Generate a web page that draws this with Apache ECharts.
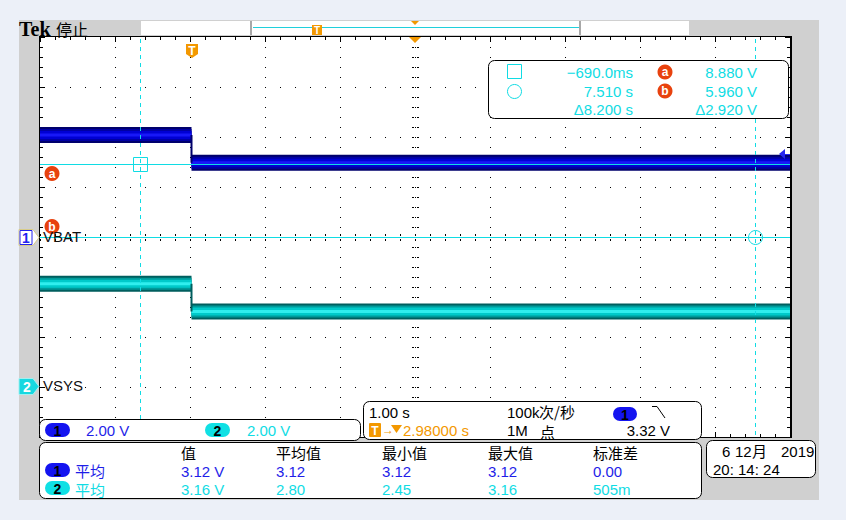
<!DOCTYPE html>
<html><head><meta charset="utf-8">
<script src="https://cdn.jsdelivr.net/npm/echarts@6/dist/echarts.min.js"></script>
<style>html,body{margin:0;padding:0;background:#ECF0F8;}#c{width:846px;height:520px;}</style>
</head><body><div id="c"></div>
<script>
const timeWindow = [-2.02, 7.98];      // s, 1.00 s/div, 10 divisions
const secPerDiv = 1.0;
const voltPerDiv = 2.0;
const stepTime = 0;                    // trigger instant (s)
const ch1Levels = [4.08, 2.97];        // VBAT before / after the step (V)
const ch2Levels = [4.09, 2.98];        // VSYS before / after the step (V)
const ch1Range = [-8, 8];              // ch1 ground at centre
const ch2Range = [-2.04, 13.96];       // ch2 ground 2.98 div below centre
const cursorTimes = [-0.69, 7.51];     // s
const cursorLevels = [8.88, 5.96];     // V (ch2 reference)
const triggerLevel = 3.32;             // V ch1
const cursorTimeText = ['\u2212690.0ms', '7.510 s', '\u03948.200 s'];
const cursorVoltText = ['8.880 V', '5.960 V', '\u03942.920 V'];
const measHeaders = ['值', '平均值', '最小值', '最大值', '标准差'];
const measRow1 = ['3.12 V', '3.12', '3.12', '3.12', '0.00'];
const measRow2 = ['3.16 V', '2.80', '2.45', '3.16', '505m'];
const chScaleText = ['2.00 V', '2.00 V'];

// ---------------- style ----------------
const SANS = '"Liberation Sans","DejaVu Sans",sans-serif';
const CJK = '"Noto Sans CJK SC",sans-serif';
const BLUE = '#1E1EE8', CYAN = '#10DCE4', ORANGE = '#F39800', RED = '#E8420E';

function tstyle(text, fill, font, align) {
  align = align || 'left';
  return {text, fill, font, align, verticalAlign: 'middle', textAlign: align, textVerticalAlign: 'middle', lineHeight: 14};
}
function txt(x, y, text, fill, font, align) {
  return {type: 'text', x, y, z: 60, silent: true, style: tstyle(text, fill, font, align)};
}
function rrect(x, y, w, h, r, fill, stroke, z) {
  return {type: 'rect', z: z == null ? 55 : z, silent: true, shape: {x, y, width: w, height: h, r},
          style: {fill, stroke: stroke || null, lineWidth: 1}};
}
function pill(x, y, w, h, fill, label, labelFill) {
  return [rrect(x, y, w, h, h / 2, fill, null, 58),
          txt(x + w / 2, y + h / 2 + 0.5, label, labelFill, 'bold 14px ' + SANS, 'center')];
}
function badgeEls(cx, cy, ch) {
  return [{type: 'circle', shape: {cx, cy, r: 7.5}, style: {fill: RED}},
          {type: 'text', x: cx, y: cy, style: tstyle(ch, '#fff', 'bold 12px ' + SANS, 'center')}];
}

// ---------------- graticule ----------------
function gratRender(params, api) {
  const cs = params.coordSys;
  const L = Math.round(cs.x), T = Math.round(cs.y), R = Math.round(cs.x + cs.width), B = Math.round(cs.y + cs.height);
  const xs = [], ys = [];
  for (let k = 0; k <= 10; k++) xs.push(Math.round(api.coord([timeWindow[0] + k * secPerDiv, ch1Range[0]])[0]));
  for (let j = 0; j <= 8; j++) ys.push(Math.round(api.coord([timeWindow[0], ch1Range[1] - j * voltPerDiv])[1]));
  const mx = (xs[10] - xs[0]) / 50, my = (ys[8] - ys[0]) / 40;
  let d = '';
  const px = (x, y, w, h) => { d += 'M' + x + ' ' + y + 'h' + w + 'v' + h + 'h' + (-w) + 'Z'; };
  for (let k = 1; k < 10; k++) {
    for (let n = 0; n <= 40; n++) {
      const y = Math.round(T + n * my);
      if (k === 5) { px(xs[k] - 3, y, 2, 1); px(xs[k] + 2, y, 2, 1); px(xs[k], y, 1, 1); }
      else px(xs[k], y, 1, 1);
    }
  }
  for (let j = 1; j < 8; j++) {
    for (let n = 0; n <= 50; n++) {
      const x = Math.round(L + n * mx);
      if (j === 4) { px(x, ys[j] - 3, 1, 2); px(x, ys[j] + 2, 1, 2); } else px(x, ys[j], 1, 1);
    }
  }
  for (let n = 0; n <= 50; n++) {
    const x = Math.round(L + n * mx), len = n % 5 === 0 ? 5 : 3;
    px(x, T, 1, len); px(x, B - len, 1, len);
  }
  for (let n = 0; n <= 40; n++) {
    const y = Math.round(T + n * my), len = n % 5 === 0 ? 5 : 3;
    px(L, y, len, 1); px(R - len, y, len, 1);
  }
  // frame
  px(L - 1, T - 1, R - L + 2, 1); px(L - 1, B, R - L + 2, 1);
  px(L - 1, T - 1, 1, B - T + 2); px(R, T - 1, 2, B - T + 2);
  return {type: 'group', children: [
    {type: 'rect', shape: {x: L, y: T, width: R - L, height: B - T}, style: {fill: '#fff'}},
    {type: 'path', shape: {pathData: d}, style: {fill: '#000'}}
  ]};
}

// ---------------- cursors ----------------
function cursorRender(params, api) {
  const cs = params.coordSys, i = params.dataIndex;
  const p = api.coord([api.value(0), api.value(1)]);
  const x = Math.round(p[0]) + 0.5, y = Math.round(p[1]) + 0.5;
  const kids = [
    {type: 'line', shape: {x1: x, y1: cs.y + 2, x2: x, y2: cs.y + cs.height}, style: {stroke: CYAN, lineWidth: 1, lineDash: [4, 4]}},
    {type: 'line', shape: {x1: cs.x, y1: y, x2: cs.x + cs.width, y2: y}, style: {stroke: CYAN, lineWidth: 1}}
  ];
  if (i === 0) kids.push({type: 'rect', shape: {x: x - 7, y: y - 7, width: 14, height: 14}, style: {fill: null, stroke: CYAN, lineWidth: 1}});
  else kids.push({type: 'circle', shape: {cx: x, cy: y, r: 7}, style: {fill: null, stroke: CYAN, lineWidth: 1}});
  const by = i === 0 ? y + 9 : y - 11;
  return {type: 'group', children: kids.concat(badgeEls(cs.x + 12, by, i === 0 ? 'a' : 'b'))};
}

// ---------------- trigger markers ----------------
function trigRender(params, api) {
  const cs = params.coordSys;
  const p = api.coord([api.value(0), api.value(1)]);
  const tx = Math.round(p[0]), ly = Math.round(p[1]);
  const cx = Math.round(cs.x + cs.width / 2), top = Math.round(cs.y), R = Math.round(cs.x + cs.width);
  return {type: 'group', children: [
    {type: 'polygon', shape: {points: [[cx - 6, top], [cx + 6, top], [cx, top + 6]]}, style: {fill: ORANGE}},
    {type: 'polygon', shape: {points: [[tx - 6, top + 7], [tx + 6, top + 7], [tx + 6, top + 17], [tx, top + 21], [tx - 6, top + 17]]}, style: {fill: ORANGE}},
    {type: 'text', x: tx, y: top + 14, style: tstyle('T', '#fff', 'bold 12px ' + SANS, 'center')},
    {type: 'polygon', shape: {points: [[R - 11, ly], [R - 5, ly - 5], [R - 5, ly + 5]]}, style: {fill: '#2424F0'}},
    {type: 'line', shape: {x1: R - 5, y1: ly + 0.5, x2: R, y2: ly + 0.5}, style: {stroke: '#2424F0', lineWidth: 1}}
  ]};
}

// ---------------- channel ground markers ----------------
function chMarker(num, name) {
  return function (params, api) {
    const p = api.coord([api.value(0), api.value(1)]);
    const y = Math.round(p[1]) + 0.5;
    const kids = [];
    if (num === 1) {
      kids.push({type: 'polygon', shape: {points: [[19, y - 8], [33, y - 8], [39, y], [33, y + 8], [19, y + 8]]}, style: {fill: '#fff', stroke: '#D8CC88', lineWidth: 1}});
      kids.push({type: 'rect', shape: {x: 20, y: y - 7, width: 12, height: 14}, style: {fill: null, stroke: '#2222EE', lineWidth: 1}});
      kids.push({type: 'text', x: 26, y: y + 0.5, style: tstyle('1', '#2222EE', 'bold 14px ' + SANS, 'center')});
    } else {
      kids.push({type: 'polygon', shape: {points: [[19, y - 8], [33, y - 8], [39, y], [33, y + 8], [19, y + 8]]}, style: {fill: '#18D8E0', stroke: '#A0F0F0', lineWidth: 1}});
      kids.push({type: 'text', x: 27, y: y + 0.5, style: tstyle('2', '#fff', 'bold 14px ' + SANS, 'center')});
    }
    kids.push({type: 'text', x: 43, y: y - 1, style: tstyle(name, '#111', '15px ' + SANS, 'left')});
    return {type: 'group', children: kids};
  };
}

// ---------------- traces ----------------
function stepData(levels) {
  return [[timeWindow[0], levels[0]], [stepTime, levels[0]], [stepTime, '-'], [stepTime, levels[1]], [timeWindow[1], levels[1]]];
}
function bandSeries(levels, axis, widths, colors, edgeColor) {
  const out = widths.map((w, i) => ({
    type: 'line', yAxisIndex: axis, data: stepData(levels), showSymbol: false, symbol: 'none',
    connectNulls: false, silent: true, z: 2, animation: false,
    lineStyle: {width: w, color: colors[i], cap: 'butt', join: 'miter'}
  }));
  out.push({type: 'line', yAxisIndex: axis, data: [[stepTime, levels[0]], [stepTime, levels[1]]], showSymbol: false, symbol: 'none',
            silent: true, z: 2, animation: false, lineStyle: {width: 2, color: edgeColor}});
  return out;
}

const series = [
  {type: 'custom', coordinateSystem: 'cartesian2d', yAxisIndex: 0, z: 1, silent: true, renderItem: gratRender, data: [[timeWindow[0], 0]], animation: false},
  ...bandSeries(ch1Levels, 0, [16, 12, 8, 3], ['#00006C', '#0000A4', '#0000D4', '#1818F8'], '#00006C'),
  ...bandSeries(ch2Levels, 1, [16, 12, 8, 3], ['#005E5E', '#009A9A', '#00CACA', '#30EEEE'], '#005E5E'),
  {type: 'custom', coordinateSystem: 'cartesian2d', yAxisIndex: 1, z: 3, silent: true, renderItem: cursorRender,
   data: cursorTimes.map((t, i) => [t, cursorLevels[i]]), animation: false},
  {type: 'custom', coordinateSystem: 'cartesian2d', yAxisIndex: 0, z: 4, silent: true, renderItem: trigRender,
   data: [[stepTime, triggerLevel]], animation: false},
  {type: 'custom', coordinateSystem: 'cartesian2d', yAxisIndex: 0, z: 4, silent: true, renderItem: chMarker(1, 'VBAT'),
   data: [[timeWindow[0], 0]], animation: false},
  {type: 'custom', coordinateSystem: 'cartesian2d', yAxisIndex: 1, z: 4, silent: true, renderItem: chMarker(2, 'VSYS'),
   data: [[timeWindow[0], 0]], animation: false}
];

// ---------------- panels (screen furniture) ----------------
const g = [];
g.push(rrect(19, 20, 800, 480, 0, '#D0D0D0', null, 0));
g.push(txt(19, 29, 'Tek', '#000', 'bold 20px "Liberation Serif",serif'));
g.push(txt(56, 29, '停止', '#000', '16px ' + CJK));
g.push(rrect(141, 21, 548, 14, 0, '#fff', null, 50));
g.push(rrect(250, 21, 2, 14, 0, '#A8A8A8', null, 51));
g.push(rrect(579, 21, 2, 14, 0, '#A8A8A8', null, 51));
g.push({type: 'line', z: 51, shape: {x1: 253, y1: 27.5, x2: 579, y2: 27.5}, style: {stroke: '#20D0DC', lineWidth: 1}});
g.push(rrect(312, 25, 10, 10, 0, ORANGE, null, 52));
g.push(txt(317, 30.5, 'T', '#fff', 'bold 10px ' + SANS, 'center'));
g.push({type: 'polygon', z: 52, shape: {points: [[411, 21], [419, 21], [415, 25]]}, style: {fill: ORANGE}});

// cursor readout box
g.push(rrect(488.5, 60.5, 300, 58, 6, '#fff', '#000', 55));
g.push({type: 'rect', z: 58, shape: {x: 507.5, y: 64.5, width: 14, height: 14}, style: {fill: null, stroke: CYAN, lineWidth: 1}});
g.push({type: 'circle', z: 58, shape: {cx: 514.5, cy: 91.5, r: 7}, style: {fill: null, stroke: CYAN, lineWidth: 1}});
const ry = [72, 91, 109];
cursorTimeText.forEach((s, i) => g.push(txt(633, ry[i], s, CYAN, '15px ' + SANS, 'right')));
cursorVoltText.forEach((s, i) => g.push(txt(757, ry[i], s, CYAN, '15px ' + SANS, 'right')));
[['a', 72], ['b', 91]].forEach(([c, y]) => {
  g.push({type: 'circle', z: 58, shape: {cx: 665, cy: y, r: 7.5}, style: {fill: RED}});
  g.push(txt(665, y, c, '#fff', 'bold 12px ' + SANS, 'center'));
});

// channel scale panel
g.push(rrect(39.5, 419.5, 321, 21, 6, '#fff', '#000', 55));
g.push(...pill(45, 423, 25, 14, '#1414F0', '1', '#000'));
g.push(txt(86, 430, chScaleText[0], BLUE, '15px ' + SANS));
g.push(...pill(205, 423, 25, 14, '#10E0E4', '2', '#000'));
g.push(txt(247, 430, chScaleText[1], CYAN, '15px ' + SANS));

// horizontal / acquisition panel
g.push(rrect(363.5, 401.5, 338, 38, 6, '#fff', '#000', 55));
g.push(txt(369, 412, '1.00 s', '#000', '15px ' + SANS));
g.push(rrect(369, 423, 12, 14, 1, ORANGE, null, 58));
g.push(txt(375, 430.5, 'T', '#fff', 'bold 12px ' + SANS, 'center'));
g.push(txt(382, 430, '\u2192', ORANGE, '12px ' + SANS));
g.push({type: 'polygon', z: 58, shape: {points: [[391, 425], [402, 425], [396.5, 433]]}, style: {fill: ORANGE}});
g.push(txt(403, 430, '2.98000 s', ORANGE, '15px ' + SANS));
g.push(txt(507, 412, '100k', '#000', '15px ' + SANS));
g.push(txt(539, 411, '次/秒', '#000', '15px ' + CJK));
g.push(txt(507, 430, '1M', '#000', '15px ' + SANS));
g.push(txt(540, 431, '点', '#000', '15px ' + CJK));
g.push(...pill(613, 407, 24, 14, '#1414F0', '1', '#000'));
g.push({type: 'polyline', z: 58, shape: {points: [[652, 406.5], [657, 406.5], [665, 418]]}, style: {stroke: '#000', lineWidth: 1, fill: null}});
g.push(txt(670, 430, '3.32 V', '#000', '15px ' + SANS, 'right'));

// measurement panel
g.push(rrect(39.5, 442.5, 662, 56, 6, '#fff', '#000', 55));
const colX = [181, 276, 382, 488, 593];
measHeaders.forEach((h, i) => g.push(txt(colX[i], 452, h, '#000', '15px ' + CJK)));
g.push(...pill(45, 463, 25, 14, '#1414F0', '1', '#000'));
g.push(txt(75, 470, '平均', BLUE, '15px ' + CJK));
measRow1.forEach((v, i) => g.push(txt(colX[i], 471, v, BLUE, '15px ' + SANS)));
g.push(...pill(45, 481, 25, 14, '#10E0E4', '2', '#000'));
g.push(txt(75, 489, '平均', CYAN, '15px ' + CJK));
measRow2.forEach((v, i) => g.push(txt(colX[i], 489, v, CYAN, '15px ' + SANS)));

// date panel
g.push(rrect(706.5, 440.5, 109, 37, 6, '#fff', '#000', 55));
g.push(txt(722, 451, '6', '#000', '15px ' + SANS));
g.push(txt(735, 451, '12', '#000', '15px ' + SANS));
g.push(txt(752, 450, '月', '#000', '15px ' + CJK));
g.push(txt(781, 451, '2019', '#000', '15px ' + SANS));
g.push(txt(713, 469, '20: 14: 24', '#000', '15px ' + SANS));

const chart = echarts.init(document.getElementById('c'), null, {renderer: 'svg', width: 846, height: 520});
chart.setOption({
  animation: false,
  backgroundColor: '#ECF0F8',
  grid: {left: 40, top: 37, width: 750, height: 400, show: false},
  xAxis: {type: 'value', min: timeWindow[0], max: timeWindow[1], show: false},
  yAxis: [
    {type: 'value', min: ch1Range[0], max: ch1Range[1], show: false},
    {type: 'value', min: ch2Range[0], max: ch2Range[1], show: false}
  ],
  graphic: {elements: g},
  series
});
</script></body></html>
